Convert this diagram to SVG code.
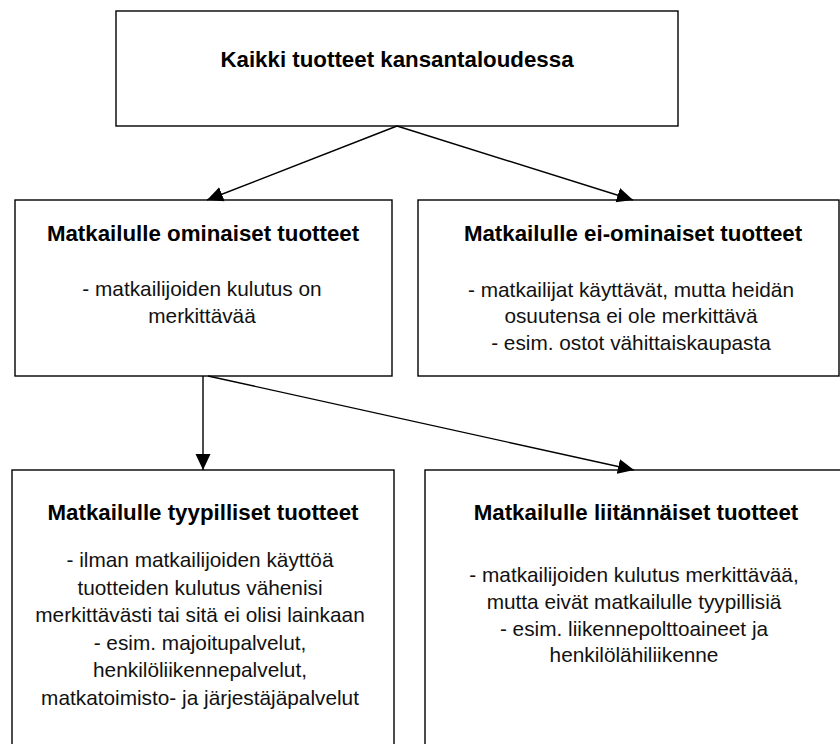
<svg xmlns="http://www.w3.org/2000/svg" width="840" height="744" viewBox="0 0 840 744">
<defs>
<marker id="ah" markerUnits="userSpaceOnUse" markerWidth="18" markerHeight="18" viewBox="0 0 18 18" refX="16" refY="9" orient="auto">
<path d="M0,1.5 L16,9 L0,16.5 Z" fill="#000"/>
</marker>
<style>
.box{fill:#fff;stroke:#000;stroke-width:1.4}
.t{font-family:"Liberation Sans",Arial,sans-serif;font-weight:bold;font-size:22.3px;fill:#000;text-anchor:middle}
.b{font-family:"Liberation Sans",Arial,sans-serif;font-size:20.8px;fill:#111;text-anchor:middle}
.c{stroke:#000;stroke-width:1.4;fill:none;marker-end:url(#ah)}
</style>
</defs>
<rect width="840" height="744" fill="#fff"/>
<g id="n-top">
<rect class="box" x="116" y="11" width="562" height="115"/>
<text class="t" x="397" y="67">Kaikki tuotteet kansantaloudessa</text>
</g>
<g id="n-ominaiset">
<rect class="box" x="15" y="200" width="377" height="176"/>
<text class="t" x="203" y="241">Matkailulle ominaiset tuotteet</text>
<text class="b" x="202" y="296">- matkailijoiden kulutus on</text>
<text class="b" x="202" y="323">merkittävää</text>
</g>
<g id="n-eiominaiset">
<rect class="box" x="418" y="200" width="421" height="176"/>
<text class="t" x="633" y="241">Matkailulle ei-ominaiset tuotteet</text>
<text class="b" x="631" y="297">- matkailijat käyttävät, mutta heidän</text>
<text class="b" x="631" y="323">osuutensa ei ole merkittävä</text>
<text class="b" x="631" y="350">- esim. ostot vähittaiskaupasta</text>
</g>
<g id="n-tyypilliset">
<rect class="box" x="12" y="470" width="382" height="300"/>
<text class="t" x="203" y="520">Matkailulle tyypilliset tuotteet</text>
<text class="b" x="200" y="567">- ilman matkailijoiden käyttöä</text>
<text class="b" x="200" y="595">tuotteiden kulutus vähenisi</text>
<text class="b" x="200" y="622">merkittävästi tai sitä ei olisi lainkaan</text>
<text class="b" x="200" y="650">- esim. majoitupalvelut,</text>
<text class="b" x="200" y="677">henkilöliikennepalvelut,</text>
<text class="b" x="200" y="705">matkatoimisto- ja järjestäjäpalvelut</text>
</g>
<g id="n-liitannaiset">
<rect class="box" x="425" y="470" width="440" height="300"/>
<text class="t" x="636" y="520">Matkailulle liitännäiset tuotteet</text>
<text class="b" x="634" y="582">- matkailijoiden kulutus merkittävää,</text>
<text class="b" x="634" y="609">mutta eivät matkailulle tyypillisiä</text>
<text class="b" x="634" y="636">- esim. liikennepolttoaineet ja</text>
<text class="b" x="634" y="662">henkilölähiliikenne</text>
</g>
<g id="connectors">
<line class="c" x1="397" y1="126" x2="207" y2="200"/>
<line class="c" x1="397" y1="126" x2="633" y2="200"/>
<line class="c" x1="203" y1="376" x2="203" y2="470"/>
<line class="c" x1="208" y1="376" x2="634" y2="470"/>
</g>
</svg>
